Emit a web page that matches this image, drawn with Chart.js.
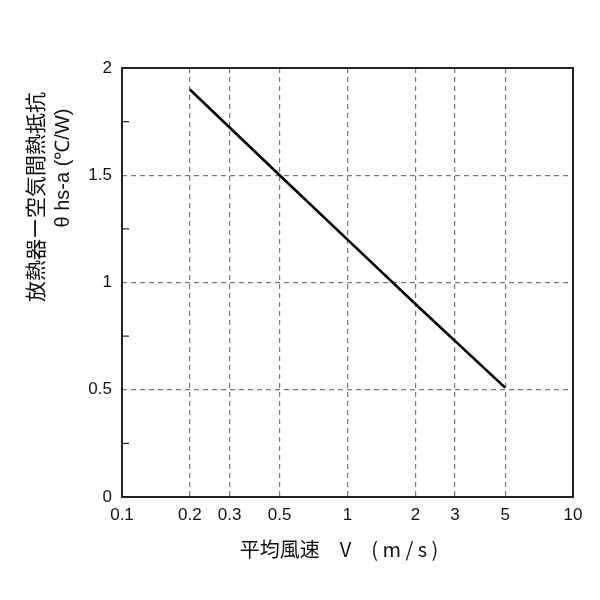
<!DOCTYPE html>
<html>
<head>
<meta charset="utf-8">
<script src="https://cdn.jsdelivr.net/npm/chart.js@4"></script>
<style>
  html, body { margin: 0; padding: 0; background: #fff; }
  #wrap { width: 600px; height: 600px; }
</style>
</head>
<body>
<div id="wrap"><canvas id="chart" width="600" height="600"></canvas></div>
<script>
// air speed (m/s) vs heatsink-air thermal resistance
const speeds = [0.2, 0.5, 1, 2, 5];
const resistance = [1.9, 1.5, 1.2, 0.9, 0.51];
const xTicks = [0.1, 0.2, 0.3, 0.5, 1, 2, 3, 5, 10];
const yMinor = [0.25, 0.75, 1.25, 1.75];
const yTitle = ["放熱器ー空気間熱抵抗", "θ hs-a (℃/W)"];
const xTitle = "平均風速　V　( m / s )";

const tickFont = { family: "'Liberation Sans', Arial, sans-serif", size: 17 };
const cjk = "'Noto Sans CJK JP', sans-serif";

const frame = {
  id: "frame",
  afterDraw(chart) {
    const { ctx, chartArea: a, scales } = chart;
    ctx.save();
    ctx.strokeStyle = "#222";
    ctx.lineWidth = 2;
    ctx.strokeRect(a.left, a.top, a.right - a.left, a.bottom - a.top);
    ctx.lineWidth = 1.2;
    yMinor.forEach(v => {
      const y = scales.y.getPixelForValue(v);
      ctx.beginPath();
      ctx.moveTo(a.left, y);
      ctx.lineTo(a.left + 7, y);
      ctx.stroke();
    });

    // axis titles
    ctx.fillStyle = "#111";
    ctx.textAlign = "center";
    ctx.textBaseline = "middle";
    ctx.font = "20px " + cjk;
    ctx.fillText(xTitle, 339, 549);

    ctx.translate(0, 197);
    ctx.rotate(-Math.PI / 2);
    ctx.font = "21px " + cjk;
    ctx.fillText(yTitle[0], 0, 35);
    ctx.font = "20px 'Liberation Sans', Arial, sans-serif";
    ctx.fillText(yTitle[1], 29, 63);
    ctx.restore();
  }
};

new Chart(document.getElementById("chart"), {
  type: "line",
  data: {
    datasets: [{
      data: speeds.map((v, i) => ({ x: v, y: resistance[i] })),
      borderColor: "#000",
      borderWidth: 2.6,
      pointRadius: 0,
      tension: 0
    }]
  },
  options: {
    responsive: false,
    animation: false,
    layout: { padding: { top: 68, right: 27, left: 0, bottom: 0 } },
    plugins: { legend: { display: false }, tooltip: { enabled: false } },
    scales: {
      x: {
        type: "logarithmic",
        min: 0.1,
        max: 10,
        afterBuildTicks(s) { s.ticks = xTicks.map(v => ({ value: v })); },
        afterFit(s) { s.height = 103; },
        grid: {
          color: c => (c.tick && (c.tick.value === 0.1 || c.tick.value === 10)) ? "rgba(0,0,0,0)" : "#777",
          lineWidth: 1.2,
          drawTicks: false
        },
        border: { display: false, dash: [5, 4] },
        ticks: {
          color: "#111",
          font: tickFont,
          padding: 8,
          maxRotation: 0,
          autoSkip: false,
          callback: v => String(v)
        }
      },
      y: {
        min: 0,
        max: 2,
        afterFit(s) { s.width = 122; },
        grid: {
          color: c => (c.tick && (c.tick.value === 0 || c.tick.value === 2)) ? "rgba(0,0,0,0)" : "#777",
          lineWidth: 1.2,
          drawTicks: false
        },
        border: { display: false, dash: [5, 4] },
        ticks: {
          stepSize: 0.5,
          color: "#111",
          font: tickFont,
          padding: 10,
          callback: v => String(v)
        }
      }
    }
  },
  plugins: [frame]
});
</script>
</body>
</html>
